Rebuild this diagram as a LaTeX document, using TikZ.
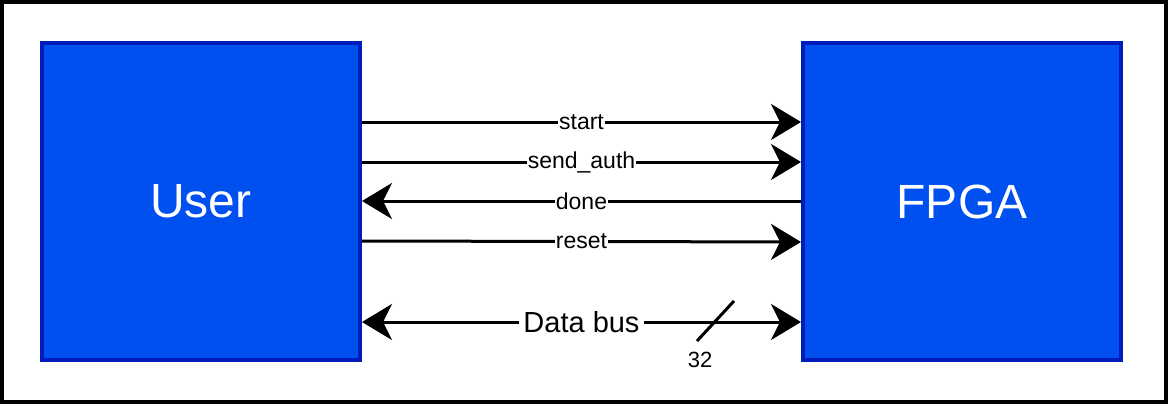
\documentclass[tikz,border=0pt]{standalone}
\usepackage{fontspec}
\setmainfont{Liberation Sans}
\usetikzlibrary{arrows.meta}

\definecolor{boxfill}{HTML}{0050EF}
\definecolor{boxline}{HTML}{001DBC}

\tikzset{
    block/.style={rectangle, draw=boxline, fill=boxfill, line width=4pt,
        minimum width=318pt, minimum height=317pt, inner sep=0pt,
        text=white, font=\fontsize{48}{52}\selectfont},
    signal/.style={line width=3pt, -{Stealth[length=30pt, width=36pt, inset=9pt]}},
    lbl/.style={fill=white, inner sep=1pt, font=\fontsize{23}{26}\selectfont},
}

\begin{document}
\begin{tikzpicture}[x=1pt, y=-1pt]
    \useasboundingbox (0, 0) rectangle (1168, 404);
    % 外框
    \draw[line width=4pt] (2, 2) rectangle (1166, 402);

    \node[block] (user) at (201, 201.5) {User};
    \node[block] (fpga) at (962, 201.5) {FPGA};

    \draw[signal] (user.east |- 0, 122) -- node[lbl]{start} (fpga.west |- 0, 122);
    \draw[signal] (user.east |- 0, 162) -- node[lbl]{send\_auth} (fpga.west |- 0, 162);
    \draw[signal] (fpga.west |- 0, 201) -- node[lbl]{done} (user.east |- 0, 201);
    \draw[signal] (user.east |- 0, 241) -- node[lbl]{reset} (fpga.west |- 0, 242);
    % 双向数据总线
    \draw[signal, {Stealth[length=30pt, width=36pt, inset=9pt]}-{Stealth[length=30pt, width=36pt, inset=9pt]}]
        (user.east |- 0, 322) -- node[lbl, inner sep=4pt, font=\fontsize{29}{32}\selectfont]{Data bus} (fpga.west |- 0, 322);
    \draw[line width=3pt] (697, 341) -- (734, 301);
    \node[font=\fontsize{22}{25}\selectfont] (width) at (700, 360) {32};
\end{tikzpicture}
\end{document}
